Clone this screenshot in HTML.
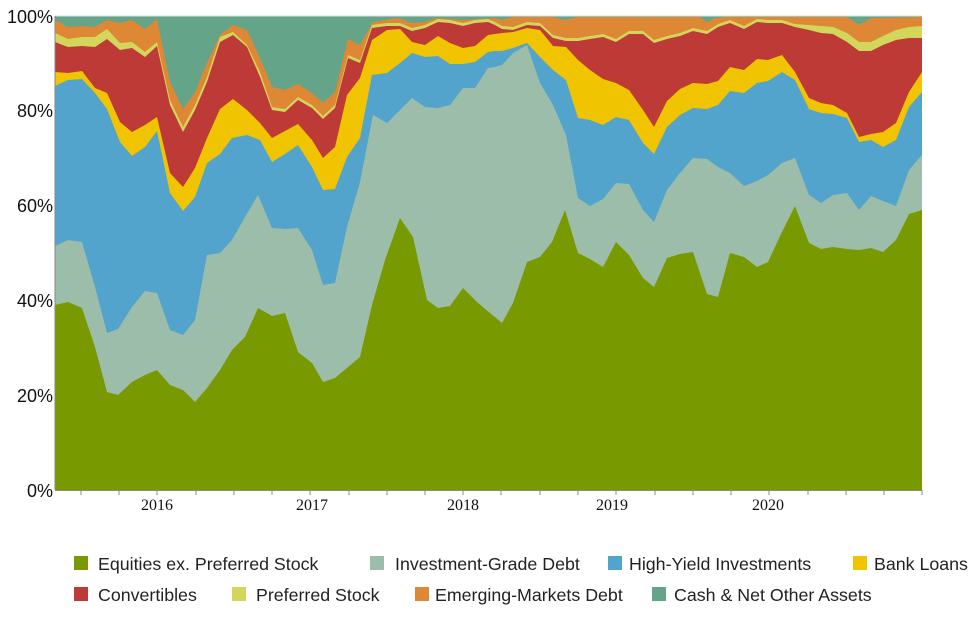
<!DOCTYPE html>
<html><head><meta charset="utf-8"><style>
html,body{margin:0;padding:0;background:#fff;}
svg{display:block;}
</style></head><body>
<svg width="975" height="625" xmlns="http://www.w3.org/2000/svg">
<rect x="55" y="16" width="867" height="474" fill="#64a58a"/>
<polygon fill="#de8735" points="55,20 68,27 82,26 95,27 107,20 120,23 132,20 145,29 157,19 170,82 183,109 195,92 207,63 220,35 233,25 247,30 260,58 272,87 285,90 298,84 312,93 323,103 335,92 348,39 360,45 373,22 398,18 412,23 425,22 437,18 463,20 495,18 502,20 513,17 540,17 553,17 565,20 578,17 700,17 707,22 715,18 730,17 847,17 859,25 871,18 922,17 922,490 55,490"/>
<polygon fill="#d2d65a" points="55,33 68,39 82,37 95,37 107,29 120,43 132,42 145,52 157,42 170,100 183,127 195,105 207,77 220,37 233,32 247,45 260,72 272,107 285,109 298,97 312,105 323,116 335,105 348,55 360,60 372,25 387,23 400,23 412,28 425,25 438,19 450,20 463,23 475,20 488,19 495,22 502,26 513,27 527,22 540,23 553,35 566,38 578,38 590,36 603,34 616,39 629,31 643,31 654,40 667,36 680,33 693,28 707,31 715,26 718,24 730,20 744,26 757,19 768,20 782,20 795,24 809,25 821,26 833,27 847,33 859,42 871,42 883,36 896,30 909,27 922,26 922,490 55,490"/>
<polygon fill="#bd3a36" points="55,42 68,47 82,46 95,47 107,39 120,50 132,48 145,57 157,46 170,105 183,132 195,110 207,82 220,42 233,35 247,47 260,77 272,110 285,112 298,100 312,108 323,119 335,108 348,58 360,63 372,28 387,26 400,26 412,31 425,28 438,22 450,23 463,26 475,23 488,22 495,25 502,29 513,30 527,25 540,26 553,38 566,41 578,41 590,39 603,37 616,42 629,34 643,34 654,43 667,39 680,36 693,31 707,34 715,29 718,27 730,23 744,29 757,22 768,23 782,23 795,27 809,30 821,33 833,34 847,42 859,51 871,51 883,45 896,40 909,38 922,38 922,490 55,490"/>
<polygon fill="#f0c400" points="55,72 68,73 82,71 95,88 107,93 120,122 132,132 145,125 157,117 170,173 183,187 195,168 207,138 220,109 233,99 247,110 260,123 272,138 285,131 298,124 312,140 323,158 335,147 347,95 360,78 372,40 387,30 400,29 412,42 425,45 438,36 450,43 463,48 475,46 488,35 495,34 502,33 513,32 527,28 540,30 553,46 566,47 578,60 590,70 603,79 616,83 629,90 643,110 654,127 667,101 680,89 693,83 707,84 718,81 730,67 744,70 757,59 768,60 782,55 795,72 809,98 821,103 833,105 847,113 859,137 871,134 883,132 896,123 909,92 922,72 922,490 55,490"/>
<polygon fill="#52a4cd" points="55,86 68,80 82,79 95,93 107,109 120,142 132,156 145,147 157,131 170,193 183,211 195,197 207,163 220,154 232,138 247,135 260,140 272,162 285,154 298,145 312,167 323,190 335,189 347,157 360,138 372,75 387,73 400,63 412,53 425,57 438,56 450,64 463,64 475,62 488,52 495,51 502,51 513,48 527,43 540,57 553,70 566,80 578,118 590,120 603,125 616,117 629,120 643,143 654,154 667,127 680,115 693,108 707,109 718,105 730,91 744,93 757,83 768,81 782,72 795,80 809,109 821,113 833,114 847,118 859,142 871,140 883,147 896,140 909,107 922,92 922,490 55,490"/>
<polygon fill="#9cbda9" points="55,246 68,240 82,242 95,287 107,333 118,329 132,307 145,291 157,293 170,330 183,335 195,320 207,255 220,253 232,240 245,217 258,195 272,228 285,229 298,228 312,250 323,285 335,283 347,227 360,182 373,115 387,123 400,110 412,98 425,107 438,108 450,105 463,88 475,88 488,68 495,67 502,65 513,53 527,45 540,83 553,105 566,135 578,198 590,206 603,199 616,183 629,184 643,210 654,222 667,190 680,173 693,158 707,159 718,167 730,173 744,186 757,181 768,175 782,163 795,158 809,195 821,203 833,195 847,193 859,210 871,196 883,201 896,206 909,170 922,155 922,490 55,490"/>
<polygon fill="#789a00" points="55,305 68,302 82,308 95,347 107,392 118,395 132,382 145,375 157,370 170,385 183,390 195,402 207,388 220,370 232,350 245,337 258,308 272,316 285,313 298,352 312,363 323,382 335,378 360,357 372,305 385,260 400,218 413,237 427,300 438,308 450,306 463,288 477,302 490,313 502,323 513,303 527,262 540,257 552,242 565,210 578,253 590,259 603,267 616,242 629,255 643,278 654,287 667,258 680,254 693,252 707,294 718,297 730,253 744,257 757,267 768,262 782,232 795,206 809,243 821,249 833,247 847,249 859,250 871,248 883,252 896,240 909,214 922,210 922,490 55,490"/>
<line x1="55" y1="16" x2="922" y2="16" stroke="#ddd" stroke-width="1"/>
<line x1="55" y1="16" x2="55" y2="490" stroke="#888" stroke-width="1"/>
<line x1="55" y1="490.5" x2="922" y2="490.5" stroke="#888" stroke-width="1"/>
<g stroke="#888" stroke-width="1">
<line x1="81" y1="490" x2="81" y2="495"/><line x1="119" y1="490" x2="119" y2="495"/><line x1="157" y1="490" x2="157" y2="495"/><line x1="196" y1="490" x2="196" y2="495"/><line x1="234" y1="490" x2="234" y2="495"/><line x1="272" y1="490" x2="272" y2="495"/><line x1="310" y1="490" x2="310" y2="495"/><line x1="349" y1="490" x2="349" y2="495"/><line x1="387" y1="490" x2="387" y2="495"/><line x1="425" y1="490" x2="425" y2="495"/><line x1="463" y1="490" x2="463" y2="495"/><line x1="501" y1="490" x2="501" y2="495"/><line x1="540" y1="490" x2="540" y2="495"/><line x1="578" y1="490" x2="578" y2="495"/><line x1="616" y1="490" x2="616" y2="495"/><line x1="655" y1="490" x2="655" y2="495"/><line x1="693" y1="490" x2="693" y2="495"/><line x1="731" y1="490" x2="731" y2="495"/><line x1="769" y1="490" x2="769" y2="495"/><line x1="808" y1="490" x2="808" y2="495"/><line x1="846" y1="490" x2="846" y2="495"/><line x1="884" y1="490" x2="884" y2="495"/><line x1="922" y1="490" x2="922" y2="495"/>
</g>
<g font-family="Liberation Sans, sans-serif" font-size="18" fill="#111" text-anchor="end">
<text x="53" y="23">100%</text><text x="53" y="117">80%</text><text x="53" y="212">60%</text><text x="53" y="307">40%</text><text x="53" y="402">20%</text><text x="53" y="497">0%</text>
</g>
<g font-family="Liberation Serif, serif" font-size="16" fill="#111" text-anchor="middle">
<text x="157" y="510">2016</text><text x="312" y="510">2017</text><text x="463" y="510">2018</text><text x="612" y="510">2019</text><text x="768" y="510">2020</text>
</g>
<g font-family="Liberation Sans, sans-serif" font-size="17.8" fill="#222">
<rect x="74" y="556" width="14" height="14" fill="#789a00"/><text x="98" y="570">Equities ex. Preferred Stock</text>
<rect x="370" y="556" width="14" height="14" fill="#9cbda9"/><text x="395" y="570">Investment-Grade Debt</text>
<rect x="608" y="556" width="14" height="14" fill="#52a4cd"/><text x="629" y="570">High-Yield Investments</text>
<rect x="853" y="556" width="14" height="14" fill="#f0c400"/><text x="874" y="570">Bank Loans</text>
<rect x="74" y="587" width="14" height="14" fill="#bd3a36"/><text x="98" y="601">Convertibles</text>
<rect x="232" y="587" width="14" height="14" fill="#d2d65a"/><text x="256" y="601">Preferred Stock</text>
<rect x="415" y="587" width="14" height="14" fill="#de8735"/><text x="435" y="601">Emerging-Markets Debt</text>
<rect x="652" y="587" width="14" height="14" fill="#64a58a"/><text x="674" y="601">Cash &amp; Net Other Assets</text>
</g>
</svg>
</body></html>
